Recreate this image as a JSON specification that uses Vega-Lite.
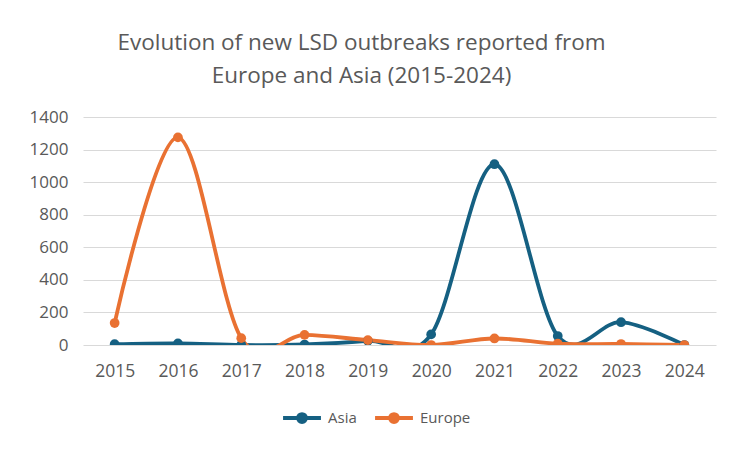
{
  "$schema": "https://vega.github.io/schema/vega-lite/v6.json",
  "autosize": "none",
  "width": 633,
  "height": 228,
  "padding": {"left": 83, "top": 117, "right": 14, "bottom": 104},
  "background": "white",
  "title": {
    "text": ["Evolution of new  LSD outbreaks reported from", "Europe and Asia (2015-2024)"],
    "font": "Open Sans",
    "fontSize": 22.5,
    "fontWeight": "normal",
    "color": "#595959",
    "anchor": "middle",
    "dx": -38,
    "offset": 21,
    "lineHeight": 33
  },
  "data": {
    "values": [
      {"year": "2015", "region": "Asia", "outbreaks": 5},
      {"year": "2016", "region": "Asia", "outbreaks": 10},
      {"year": "2017", "region": "Asia", "outbreaks": 0},
      {"year": "2018", "region": "Asia", "outbreaks": 3},
      {"year": "2019", "region": "Asia", "outbreaks": 25},
      {"year": "2020", "region": "Asia", "outbreaks": 65},
      {"year": "2021", "region": "Asia", "outbreaks": 1110},
      {"year": "2022", "region": "Asia", "outbreaks": 55},
      {"year": "2023", "region": "Asia", "outbreaks": 140},
      {"year": "2024", "region": "Asia", "outbreaks": 0},
      {"year": "2015", "region": "Europe", "outbreaks": 135},
      {"year": "2016", "region": "Europe", "outbreaks": 1275},
      {"year": "2017", "region": "Europe", "outbreaks": 42},
      {"year": "2018", "region": "Europe", "outbreaks": 62},
      {"year": "2019", "region": "Europe", "outbreaks": 30},
      {"year": "2020", "region": "Europe", "outbreaks": 0},
      {"year": "2021", "region": "Europe", "outbreaks": 40},
      {"year": "2022", "region": "Europe", "outbreaks": 8},
      {"year": "2023", "region": "Europe", "outbreaks": 6},
      {"year": "2024", "region": "Europe", "outbreaks": 0}
    ]
  },
  "encoding": {
    "x": {
      "field": "year",
      "type": "ordinal",
      "scale": {"type": "point", "padding": 0.5},
      "axis": {
        "title": null,
        "labelAngle": 0,
        "labelFont": "Open Sans",
        "labelFontSize": 17.5,
        "labelColor": "#595959",
        "labelPadding": 17,
        "ticks": false,
        "domain": false,
        "grid": false
      }
    },
    "y": {
      "field": "outbreaks",
      "type": "quantitative",
      "scale": {"domain": [0, 1400], "nice": false},
      "axis": {
        "title": null,
        "format": "d",
        "values": [0, 200, 400, 600, 800, 1000, 1200, 1400],
        "labelFont": "Open Sans",
        "labelFontSize": 17,
        "labelColor": "#595959",
        "labelPadding": 15,
        "ticks": false,
        "domain": false,
        "gridColor": "#d9d9d9",
        "gridWidth": 1
      }
    },
    "color": {
      "field": "region",
      "type": "nominal",
      "scale": {"domain": ["Asia", "Europe"], "range": ["#156082", "#E97132"]},
      "legend": {
        "title": null,
        "orient": "none",
        "direction": "horizontal",
        "legendX": 205,
        "legendY": 287,
        "labelFont": "Open Sans",
        "labelFontSize": 15,
        "labelColor": "#595959",
        "symbolType": "M-1.6,0L1.6,0M-0.33,0A0.33,0.33,0,1,1,0.33,0A0.33,0.33,0,1,1,-0.33,0Z",
        "symbolSize": 560,
        "symbolStrokeWidth": 4,
        "symbolFillColor": "transparent",
        "columnPadding": 10,
        "labelOffset": 12
      }
    }
  },
  "layer": [
    {
      "mark": {"type": "line", "interpolate": "cardinal", "strokeWidth": 3.8, "clip": true}
    },
    {
      "mark": {"type": "point", "filled": true, "size": 95, "opacity": 1, "clip": true}
    }
  ],
  "config": {"view": {"stroke": null}}
}
